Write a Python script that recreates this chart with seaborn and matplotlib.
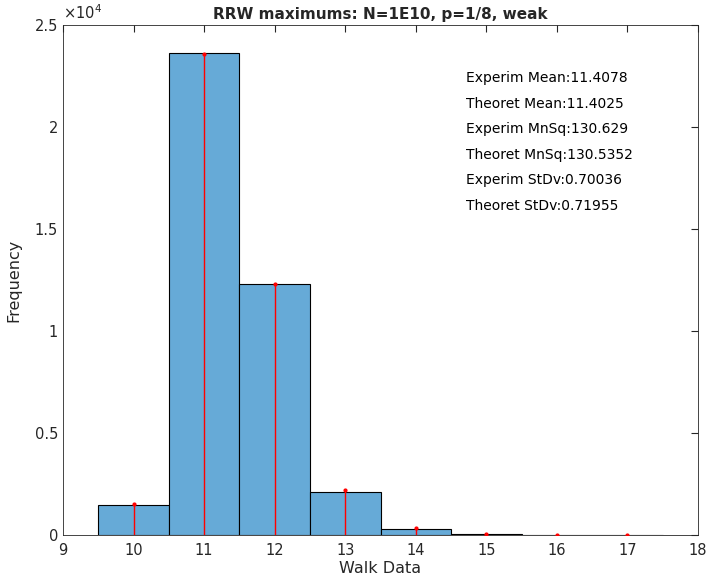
import numpy as np
import pandas as pd
import seaborn as sns
import matplotlib
matplotlib.use('Agg')
import matplotlib.pyplot as plt
from matplotlib.ticker import FuncFormatter

# histogram of walk maxima (experimental) and theoretical expectation
walk_values = [10, 11, 12, 13, 14, 15, 16, 17]
experim_counts = [1470, 23630, 12300, 2095, 310, 40, 6, 1]
theoret_counts = [1520, 23580, 12300, 2190, 343, 42, 6, 1]
stats_labels = ['Experim Mean:11.4078', 'Theoret Mean:11.4025',
                'Experim MnSq:130.629', 'Theoret MnSq:130.5352',
                'Experim StDv:0.70036', 'Theoret StDv:0.71955']

df = pd.DataFrame({'walk': walk_values, 'count': experim_counts})

sns.set_style('white')
plt.rcParams['font.family'] = ['DejaVu Sans']
axcol = '#262626'

fig = plt.figure(figsize=(7.17, 5.82), dpi=100)
ax = fig.add_axes([0.0879, 0.0808, 0.8856, 0.8762])

sns.histplot(data=df, x='walk', weights='count', discrete=True, ax=ax,
             color='#66aad7', alpha=1, edgecolor='black', linewidth=0.8)

ml, sl, bl = ax.stem(walk_values, theoret_counts, linefmt='r-', markerfmt='r.', basefmt=' ')
plt.setp(sl, linewidth=1.0, color='#ff0000', zorder=5)
plt.setp(ml, markersize=4, zorder=6)

ax.set_xlim(9, 18)
ax.set_ylim(0, 25000)
ax.set_xticks(range(9, 19))
ax.set_yticks(np.arange(0, 25001, 5000))
ax.yaxis.set_major_formatter(FuncFormatter(lambda v, p: '%g' % (v / 1e4)))
ax.tick_params(direction='in', length=5, colors=axcol, labelsize=10.5,
               top=True, right=True, labelcolor=axcol)
ax.tick_params(axis='x', pad=6)
for s in ax.spines.values():
    s.set_color(axcol)
    s.set_linewidth(0.6)

ax.text(0, 1.005, r'$\times10^4$', transform=ax.transAxes, fontsize=10.5,
        color=axcol, ha='left', va='bottom')

ax.set_title('RRW maximums: N=1E10, p=1/8, weak', fontsize=11, fontweight='bold', pad=4)
ax.set_xlabel('Walk Data', fontsize=11.5, color=axcol, labelpad=2)
ax.set_ylabel('Frequency', fontsize=11.5, color=axcol, labelpad=10)

for i, t in enumerate(stats_labels):
    ax.text(0.635, 0.896 - i * 0.05, t, transform=ax.transAxes,
            fontsize=10, color='black', ha='left', va='center')

fig.savefig('out.png', dpi=100)
